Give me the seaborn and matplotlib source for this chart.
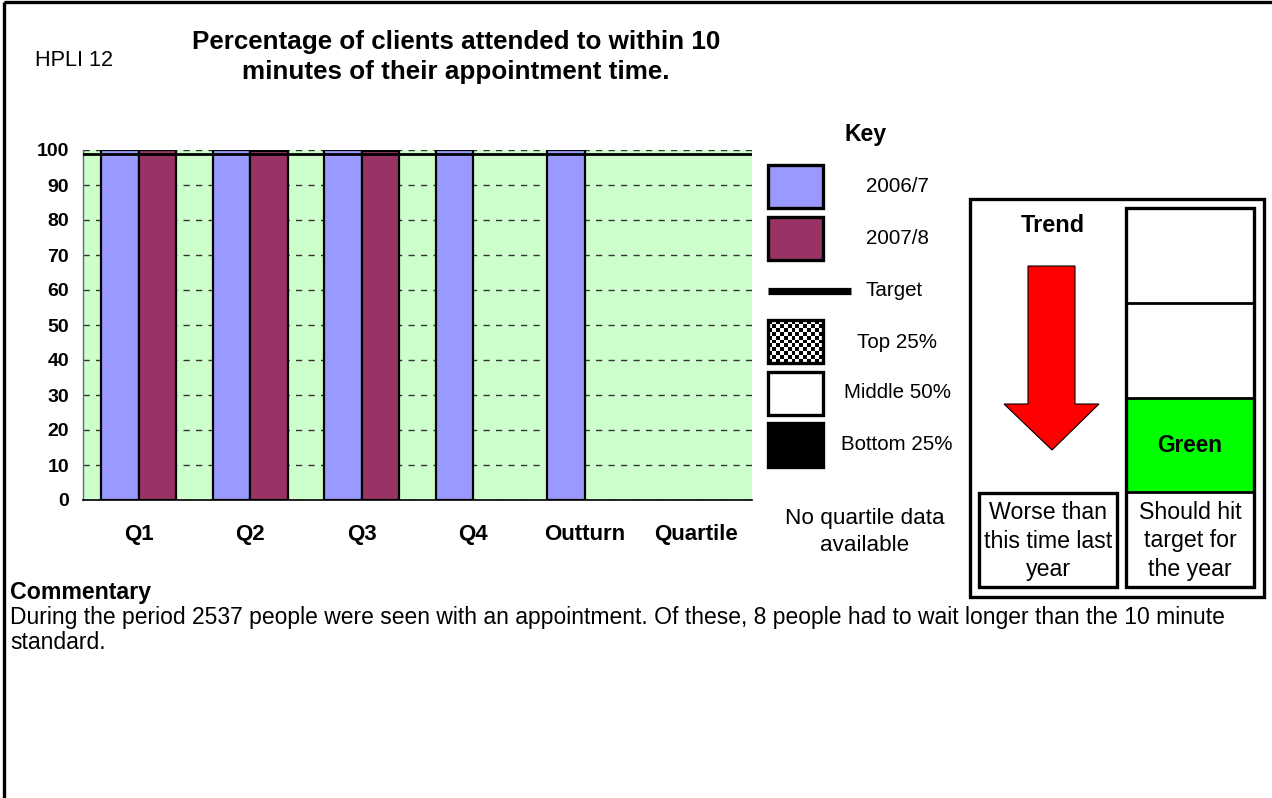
import numpy as np
import pandas as pd
import matplotlib
matplotlib.use("Agg")
import matplotlib.pyplot as plt
import seaborn as sns
from matplotlib.patches import Rectangle, Polygon

# ---- data -------------------------------------------------------------
periods = ["Q1", "Q2", "Q3", "Q4", "Outturn", "Quartile"]
years = ["2006/7", "2007/8"]
values_2006_7 = [99.9, 99.9, 99.9, 99.9, 99.9]   # Q1 .. Outturn
values_2007_8 = [99.9, 99.8, 99.7]               # Q1 .. Q3
target = 99.0
yticks = list(range(0, 101, 10))

title = "Percentage of clients attended to within 10\nminutes of their appointment time."
indicator = "HPLI 12"
key_labels = ["2006/7", "2007/8", "Target", "Top 25%", "Middle 50%", "Bottom 25%"]
no_quartile = "No quartile data\navailable"
trend_text = "Worse than\nthis time last\nyear"
status_text = "Should hit\ntarget for\nthe year"
status_word = "Green"
commentary_head = "Commentary"
commentary_body = ("During the period 2537 people were seen with an appointment. Of these, "
                   "8 people had to wait longer than the 10 minute\nstandard.")

rows = [{"period": p, "year": "2006/7", "value": v} for p, v in zip(periods, values_2006_7)]
rows += [{"period": p, "year": "2007/8", "value": v} for p, v in zip(periods, values_2007_8)]
df = pd.DataFrame(rows)

colors = {"2006/7": "#9999FF", "2007/8": "#993366"}

# ---- figure -----------------------------------------------------------
sns.set_theme(style="white")
plt.rcParams["font.family"] = ["Liberation Sans", "DejaVu Sans"]
plt.rcParams.update({"text.color": "black", "axes.labelcolor": "black",
                     "xtick.color": "black", "ytick.color": "black"})

W, H = 1272, 798
fig = plt.figure(figsize=(W / 100, H / 100), dpi=100)
fig.patch.set_facecolor("white")


def px_rect(x0, y0, x1, y1):
    return [x0 / W, 1 - y1 / H, (x1 - x0) / W, (y1 - y0) / H]


ax = fig.add_axes(px_rect(83, 150, 752, 500))
ax.set_facecolor("#CCFFCC")
sns.barplot(data=df, x="period", y="value", hue="year", order=periods,
            hue_order=years, palette=colors, saturation=1, edgecolor="black",
            linewidth=1.6, width=0.67, gap=0, dodge=True, errorbar=None,
            legend=False, ax=ax, zorder=3)
ax.axhline(target, color="black", lw=2.0, zorder=5)

ax.set_xlim(-0.5, len(periods) - 0.5)
ax.set_ylim(0, 100)
ax.set_yticks(yticks)
ax.set_yticklabels([str(t) for t in yticks], fontsize=14, fontweight="bold")
ax.set_xticks(range(len(periods)))
ax.set_xticklabels(periods, fontsize=16, fontweight="bold")
ax.set_xticks(np.arange(-0.5, len(periods)), minor=True)
ax.tick_params(axis="x", which="major", length=0, pad=17, colors="black")
ax.tick_params(axis="x", which="minor", length=5, width=1, direction="out", color="black")
ax.tick_params(axis="y", which="major", length=4, width=1, direction="out", pad=6,
               color="black", labelcolor="black")
ax.set_xlabel("")
ax.set_ylabel("")
ax.set_axisbelow(True)
ax.yaxis.grid(True, linestyle=(0, (4.5, 4.5)), color="#333333", lw=1.0)
ax.xaxis.grid(False)
for s in ("top", "right"):
    ax.spines[s].set_visible(False)
ax.spines["left"].set_color("#666666")
ax.spines["left"].set_linewidth(1.0)
ax.spines["bottom"].set_color("black")
ax.spines["bottom"].set_linewidth(1.2)

# ---- overlay for key, panels and text (pixel coordinates) -------------
deco = fig.add_axes([0, 0, 1, 1])
deco.set_facecolor("none")
deco.axis("off")

# page frame
deco.plot([4, 4], [2, H], color="black", lw=2.4, solid_capstyle="butt")
deco.plot([4, W], [2, 2], color="black", lw=2.4, solid_capstyle="butt")

deco.text(35, 60, indicator, fontsize=15.6, ha="left", va="center")
deco.text(456, 57, title, fontsize=18.7, fontweight="bold", ha="center", va="center",
          linespacing=1.33)

# key
deco.text(866, 135, "Key", fontsize=16.6, fontweight="bold", ha="center", va="center")
box_x0, box_x1 = 768, 823
key_boxes = [(165, 208), (217, 260), None, (320, 363), (372, 415), (423, 467)]
key_fill = ["#9999FF", "#993366", None, None, "white", "black"]
key_y = [186, 238, 291, 342, 393, 445]
key_x = [897, 897, 894, 897, 897, 897]
for (yy, fc, lab, lx, ly) in zip(key_boxes, key_fill, key_labels, key_x, key_y):
    if yy is not None:
        if fc is None:
            checker = (np.indices((11, 14)).sum(axis=0) % 2).astype(float)
            deco.imshow(checker, cmap="gray", extent=(box_x0, box_x1, yy[1], yy[0]),
                        interpolation="nearest", aspect="auto", zorder=2)
            fc = "none"
        deco.add_patch(Rectangle((box_x0, yy[0]), box_x1 - box_x0, yy[1] - yy[0],
                                 facecolor=fc, edgecolor="black", lw=2.4, zorder=3))
    else:
        deco.plot([768, 851], [ly, ly], color="black", lw=5.2, solid_capstyle="butt")
    deco.text(lx, ly, lab, fontsize=14.8, ha="center", va="center")

deco.text(865, 532, no_quartile, fontsize=16.2, ha="center", va="center", linespacing=1.38)

# trend / status panel
deco.add_patch(Rectangle((970, 199), 294, 398, facecolor="white", edgecolor="black", lw=2.4))
deco.text(1053, 225, "Trend", fontsize=16.9, fontweight="bold", ha="center", va="center")
arrow = [(1028, 266), (1075, 266), (1075, 404), (1099, 404), (1052, 450),
         (1004, 404), (1028, 404)]
deco.add_patch(Polygon(arrow, closed=True, facecolor="#FF0000", edgecolor="black", lw=0.8))
deco.add_patch(Rectangle((979, 493), 138, 94, facecolor="white", edgecolor="black", lw=2.4))
deco.text(1048, 541, trend_text, fontsize=16.7, ha="center", va="center", linespacing=1.28)

col_x0, col_x1 = 1126, 1254
deco.add_patch(Rectangle((col_x0, 398), col_x1 - col_x0, 94, facecolor="#00FF00",
                         edgecolor="none"))
deco.add_patch(Rectangle((col_x0, 208), col_x1 - col_x0, 379, facecolor="none",
                         edgecolor="black", lw=2.4))
for yd in (303, 398, 492):
    deco.plot([col_x0, col_x1], [yd, yd], color="black", lw=2.0)
deco.text(1190, 445, status_word, fontsize=16.3, fontweight="bold", ha="center", va="center")
deco.text(1190, 541, status_text, fontsize=16.7, ha="center", va="center", linespacing=1.28)

# commentary
deco.text(10, 593, commentary_head, fontsize=16.7, fontweight="bold", ha="left", va="center")
deco.text(10, 630, commentary_body, fontsize=16.5, ha="left", va="center", linespacing=1.07)

deco.set_xlim(0, W)
deco.set_ylim(H, 0)

fig.savefig("out.png", dpi=100)
